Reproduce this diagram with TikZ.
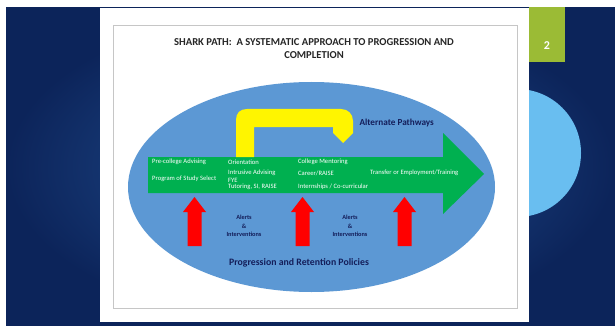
\documentclass[tikz,border=0pt]{standalone}
\usepackage{fontspec}
\setmainfont{Carlito}

\definecolor{navy}{RGB}{12,36,90}
\definecolor{navylight}{RGB}{36,84,152}
\definecolor{skyblue}{RGB}{105,190,240}
\definecolor{slidegreen}{RGB}{155,187,53}
\definecolor{ovalblue}{RGB}{92,152,212}
\definecolor{pathgreen}{RGB}{0,176,80}
\definecolor{bendyellow}{RGB}{255,245,0}
\definecolor{textnavy}{RGB}{20,30,90}

\tikzset{
  greenlabel/.style={anchor=west, text=white, inner sep=0pt, font=\fontsize{6.6}{7.5}\selectfont},
  alertlabel/.style={align=center, text=textnavy, inner sep=0pt, font=\bfseries\fontsize{6.3}{8.5}\selectfont},
  uparrow/.style={fill=red}
}

\begin{document}
\begin{tikzpicture}[x=1pt,y=-1pt]
\useasboundingbox (0,0) rectangle (615,326);

\fill[white] (0,0) rectangle (615,326);
\shade[inner color=navylight, outer color=navy] (6,8) rectangle (615,326);
\fill[skyblue] (517,153) circle [radius=64];
\fill[white] (100,8) rectangle (529,322);
\fill[slidegreen] (529,7) rectangle (565,62);
\node[text=white, font=\bfseries\fontsize{12}{14}\selectfont] (slidenum) at (547,46) {2};

\draw[gray!45, line width=0.8pt] (113,25) rectangle (517,308);
\node[align=center, text=black!85, font=\bfseries\fontsize{10.6}{13}\selectfont] (title) at (314,48.5)
  {SHARK PATH:\ \ A SYSTEMATIC APPROACH TO PROGRESSION AND\\COMPLETION};


\fill[ovalblue] (311.5,187) ellipse [x radius=183.5, y radius=105];

\fill[pathgreen] (148,157) -- (443,157) -- (443,133) -- (484,174) -- (443,214) -- (443,193) -- (148,193) -- cycle;

\fill[bendyellow] (236,157) -- (236,120) .. controls (236,113) and (240,109) .. (247,109) -- (341,109)
  .. controls (348,109) and (353,114) .. (353,121) -- (353,133) -- (343,143) -- (333,133)
  -- (333,127) -- (254,127) -- (254,157) -- cycle;
\node[anchor=west, text=textnavy, font=\bfseries\fontsize{9.2}{11}\selectfont] (alternate) at (356,123) {Alternate Pathways};


\node[greenlabel] (precollege) at (152,162) {Pre-college Advising};
\node[greenlabel] (program) at (152,179) {Program of Study Select};
\node[greenlabel] (orientation) at (228,162) {Orientation};
\node[greenlabel] (intrusive) at (228,173) {Intrusive Advising};
\node[greenlabel] (fye) at (228,180) {FYE};
\node[greenlabel] (tutoring) at (228,187) {Tutoring, SI, RAISE};
\node[greenlabel] (mentoring) at (298,162) {College Mentoring};
\node[greenlabel] (career) at (298,173) {Career/RAISE};
\node[greenlabel] (internships) at (298,187) {Internships / Co-curricular};
\node[greenlabel] (transfer) at (370,173) {Transfer or Employment/Training};


\foreach \x in {194.5,302.5,404.5}
  \fill[uparrow] ({\x-7},246) -- ({\x-7},212) -- ({\x-11.5},212) -- (\x,197) -- ({\x+11.5},212)
    -- ({\x+7},212) -- ({\x+7},246) -- cycle;

\node[alertlabel] (alertsleft) at (244,226) {Alerts\\\&\\Interventions};
\node[alertlabel] (alertsright) at (350,226) {Alerts\\\&\\Interventions};

\node[text=textnavy, font=\bfseries\fontsize{9.8}{12}\selectfont] (policies) at (299,263) {Progression and Retention Policies};
\end{tikzpicture}
\end{document}
